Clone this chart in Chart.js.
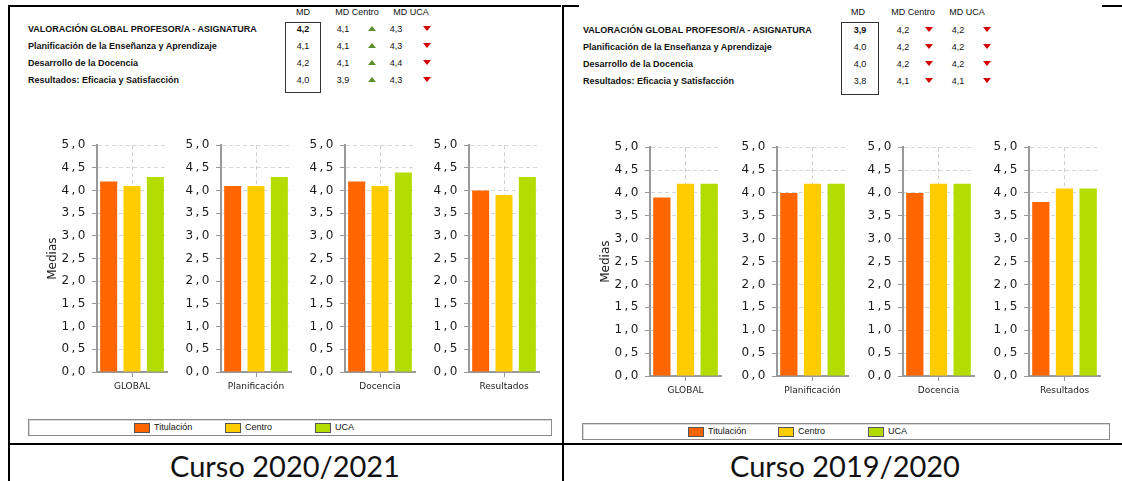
<!DOCTYPE html>
<html>
<head>
<meta charset="utf-8">
<script src="https://cdn.jsdelivr.net/npm/chart.js@4.4.0/dist/chart.umd.min.js"></script>
<style>
  html, body { margin: 0; padding: 0; background: #fff; }
  #page { position: relative; width: 1122px; height: 481px; overflow: hidden; font-family: "Liberation Sans", Arial, sans-serif; color: #111; }
  .line { position: absolute; background: #000; }
  .txt { position: absolute; font-size: 9px; line-height: 11px; white-space: nowrap; }
  .b { font-weight: bold; }
  .c { transform: translateX(-50%); }
  .box { position: absolute; border: 1px solid #333; }
  .up, .down { position: absolute; width: 0; height: 0; border-left: 4px solid transparent; border-right: 4px solid transparent; }
  .up { border-bottom: 5px solid #5b8f2c; }
  .down { border-top: 5px solid #d40000; }
  .legend { position: absolute; border: 1px solid #8a8a8a; box-shadow: inset 1px 1px 0 #d8d8d8; }
  .sw { position: absolute; width: 14px; height: 8px; border: 1px solid #555; }
  .cap { position: absolute; font-family: Lato, sans-serif; font-size: 29px; line-height: 34px; transform: translateX(-50%); white-space: nowrap; color: #111; }
  canvas { position: absolute; }
</style>
</head>
<body>
<div id="page"></div>
<script>
const categories = ['GLOBAL', 'Planificación', 'Docencia', 'Resultados'];
const rowLabels = [
  'VALORACIÓN GLOBAL PROFESOR/A - ASIGNATURA',
  'Planificación de la Enseñanza y Aprendizaje',
  'Desarrollo de la Docencia',
  'Resultados: Eficacia y Satisfacción'
];
const headers = ['MD', 'MD Centro', 'MD UCA'];
const seriesNames = ['Titulación', 'Centro', 'UCA'];
const seriesColors = ['#ff6600', '#ffcc00', '#b4dc00'];
const yTicks = [0, 0.5, 1, 1.5, 2, 2.5, 3, 3.5, 4, 4.5, 5];
const captions = ['Curso 2020/2021', 'Curso 2019/2020'];

// curso 2020/2021
const titulacion2021 = [4.2, 4.1, 4.2, 4.0];
const centro2021 = [4.1, 4.1, 4.1, 3.9];
const uca2021 = [4.3, 4.3, 4.4, 4.3];
// curso 2019/2020
const titulacion2020 = [3.9, 4.0, 4.0, 3.8];
const centro2020 = [4.2, 4.2, 4.2, 4.1];
const uca2020 = [4.2, 4.2, 4.2, 4.1];

const page = document.getElementById('page');
const fmt = v => v.toFixed(1).replace('.', ',');

function el(cls, css, text) {
  const d = document.createElement('div');
  d.className = cls;
  Object.assign(d.style, css);
  if (text !== undefined) d.textContent = text;
  page.appendChild(d);
  return d;
}

// marcos
el('line', {left: '8px', top: '5px', width: '2px', height: '476px'});
el('line', {left: '8px', top: '5px', width: '553px', height: '2px'});
el('line', {left: '562px', top: '5px', width: '2px', height: '476px'});
el('line', {left: '562px', top: '5px', width: '17px', height: '2px'});
el('line', {left: '1102px', top: '5px', width: '20px', height: '2px'});
el('line', {left: '8px', top: '443px', width: '1114px', height: '2px'});

// letras del eje Y espaciadas
const tickSpacing = {
  id: 'tickSpacing',
  afterLayout(chart) {
    const y = chart.scales.y;
    if (y.spaced) return;
    const draw = y.drawLabels.bind(y);
    y.drawLabels = area => {
      chart.ctx.save();
      chart.ctx.letterSpacing = '2.5px';
      draw(area);
      chart.ctx.restore();
    };
    y.spaced = true;
  }
};

const panels = [
  {
    series: [titulacion2021, centro2021, uca2021], caption: captions[0],
    textX: 28, headY: 12, rowY: [29, 46, 63, 80], box: [285, 22, 36, 71],
    colX: [303, 343, 372, 396, 427], headX: [303, 357, 411],
    axisX: [96, 220, 344, 468], plotW: 70, plotTop: 141.5, plotH: 230,
    legend: [28, 419, 524, 17], legendX: [134, 225, 315], capX: 285
  },
  {
    series: [titulacion2020, centro2020, uca2020], caption: captions[1],
    textX: 583, headY: 12, rowY: [30, 47, 64, 81], box: [841, 22, 38, 73],
    colX: [860, 903, 929, 958, 987], headX: [858, 913, 967],
    axisX: [649, 776, 902, 1028], plotW: 71, plotTop: 144, plotH: 232,
    legend: [582, 423, 528, 17], legendX: [688, 778, 868], capX: 845
  }
];

panels.forEach(p => {
  const [tit, cen, uca] = p.series;

  // tabla
  headers.forEach((h, i) => el('txt c', {left: p.headX[i] + 'px', top: (p.headY - 5.5) + 'px'}, h));
  el('box', {left: p.box[0] + 'px', top: p.box[1] + 'px', width: (p.box[2] - 2) + 'px', height: (p.box[3] - 2) + 'px'});
  rowLabels.forEach((lab, r) => {
    const top = (p.rowY[r] - 5.5) + 'px';
    el('txt b', {left: p.textX + 'px', top}, lab);
    el('txt c' + (r === 0 ? ' b' : ''), {left: p.colX[0] + 'px', top}, fmt(tit[r]));
    el('txt c', {left: p.colX[1] + 'px', top}, fmt(cen[r]));
    el('txt c', {left: p.colX[3] + 'px', top}, fmt(uca[r]));
    [[cen[r], p.colX[2]], [uca[r], p.colX[4]]].forEach(([other, x]) => {
      const up = tit[r] >= other;
      el(up ? 'up' : 'down', {left: (x - 4) + 'px', top: (p.rowY[r] - 3) + 'px'});
    });
  });

  // graficos
  categories.forEach((cat, i) => {
    const yw = 51;
    const canvas = document.createElement('canvas');
    canvas.width = yw + p.plotW + 3;
    canvas.height = 8 + p.plotH + 26;
    canvas.style.left = (p.axisX[i] + 1 - yw) + 'px';
    canvas.style.top = (p.plotTop - 8) + 'px';
    page.appendChild(canvas);

    new Chart(canvas, {
      type: 'bar',
      data: {
        labels: [cat],
        datasets: p.series.map((s, k) => ({
          label: seriesNames[k],
          data: [s[i]],
          backgroundColor: seriesColors[k],
          borderWidth: 0,
          barPercentage: 0.73,
          categoryPercentage: 1.0
        }))
      },
      options: {
        responsive: false,
        animation: false,
        events: [],
        layout: {padding: {top: 8, right: 3, left: 0, bottom: 0}},
        plugins: {legend: {display: false}, tooltip: {enabled: false}},
        scales: {
          x: {
            afterFit: s => { s.height = 26; },
            grid: {offset: false, color: '#cfcfcf', tickColor: '#999', tickLength: 5},
            border: {color: '#999', width: 2, dash: [4, 3]},
            ticks: {color: '#222', padding: 4, font: {family: 'DejaVu Sans', size: 9}}
          },
          y: {
            min: 0, max: 5,
            afterFit: s => { s.width = yw; },
            afterBuildTicks: s => { s.ticks = yTicks.map(v => ({value: v})); },
            grid: {color: '#d6d6d6', tickColor: '#999', tickLength: 5},
            border: {color: '#999', width: 2, dash: [4, 3]},
            ticks: {color: '#1a1a1a', padding: 4, font: {family: 'DejaVu Sans', size: 12}, callback: v => fmt(v)},
            title: {display: i === 0, text: 'Medias', color: '#1a1a1a', padding: 0, font: {family: 'DejaVu Sans', size: 12}}
          }
        }
      },
      plugins: [tickSpacing]
    });
  });

  // leyenda
  const [lx, ly, lw, lh] = p.legend;
  el('legend', {left: lx + 'px', top: ly + 'px', width: (lw - 2) + 'px', height: (lh - 2) + 'px'});
  seriesNames.forEach((name, k) => {
    el('sw', {left: p.legendX[k] + 'px', top: (ly + 4) + 'px', background: seriesColors[k]});
    el('txt', {left: (p.legendX[k] + 20) + 'px', top: (ly + 3) + 'px'}, name);
  });

  el('cap', {left: p.capX + 'px', top: '449px'}, p.caption);
});
</script>
</body>
</html>
